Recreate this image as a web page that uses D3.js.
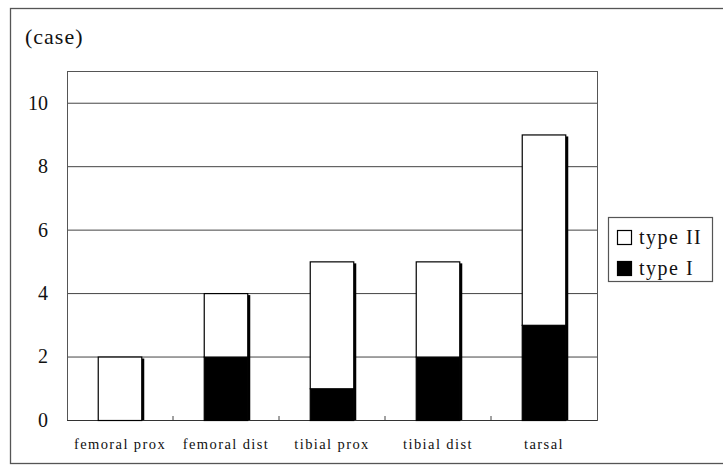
<!DOCTYPE html>
<html>
<head>
<meta charset="utf-8">
<script src="https://cdn.jsdelivr.net/npm/d3@7"></script>
<style>
  html, body { margin: 0; padding: 0; background: #fff; }
  svg { display: block; }
  text { font-family: "Liberation Serif", "DejaVu Serif", serif; fill: #111; }
</style>
</head>
<body>
<svg id="chart" width="723" height="466"></svg>
<script>
// Cases per site, split by lesion type
const categories = ["femoral prox", "femoral dist", "tibial prox", "tibial dist", "tarsal"];
const typeI  = [0, 2, 1, 2, 3];
const typeII = [2, 2, 4, 3, 6];
const yTicks = [0, 2, 4, 6, 8, 10];
const seriesNames = ["type I", "type II"];

const svg = d3.select("#chart");

// outer frame
svg.append("rect")
  .attr("x", 10.5).attr("y", 8.5)
  .attr("width", 730).attr("height", 455)
  .attr("fill", "none").attr("stroke", "#555").attr("stroke-width", 1.3);

const plot = { left: 67, right: 597, top: 71, bottom: 420 };

const x = d3.scaleBand().domain(categories)
  .range([plot.left, plot.right]).paddingInner(0.58).paddingOuter(0.29);
const y = d3.scaleLinear().domain([0, 11]).range([plot.bottom, plot.top]);

// gridlines
svg.append("g").selectAll("line")
  .data(yTicks.filter(d => d > 0))
  .join("line")
  .attr("x1", plot.left).attr("x2", plot.right)
  .attr("y1", d => y(d) + 0.5).attr("y2", d => y(d) + 0.5)
  .attr("stroke", "#444").attr("stroke-width", 1);

// plot border
svg.append("rect")
  .attr("x", plot.left + 0.5).attr("y", plot.top + 0.5)
  .attr("width", plot.right - plot.left).attr("height", plot.bottom - plot.top)
  .attr("fill", "none").attr("stroke", "#555").attr("stroke-width", 1);

// y axis labels
const yAxis = d3.axisLeft(y).tickValues(yTicks).tickSize(0).tickPadding(19);
const gy = svg.append("g").attr("transform", `translate(${plot.left},0)`).call(yAxis);
gy.select(".domain").remove();
gy.selectAll("text")
  .style("font-family", '"Liberation Serif", "DejaVu Serif", serif')
  .style("font-size", "20px").attr("fill", "#111");

// x axis: baseline, category boundary ticks and labels
const xAxis = d3.axisBottom(x).tickSize(0).tickPadding(19);
const gx = svg.append("g").attr("transform", `translate(0,${plot.bottom})`).call(xAxis);
gx.select(".domain").remove();
gx.selectAll("text")
  .style("font-family", '"Liberation Serif", "DejaVu Serif", serif')
  .style("font-size", "14.5px").style("letter-spacing", "1.4px").attr("fill", "#111");

svg.append("line")
  .attr("x1", plot.left).attr("x2", plot.right)
  .attr("y1", plot.bottom + 0.5).attr("y2", plot.bottom + 0.5)
  .attr("stroke", "#333").attr("stroke-width", 1.2);

const step = x.step();
const bounds = categories.slice(1).map(c => x(c) - x.paddingInner() * step / 2);
svg.append("g").selectAll("line").data(bounds).join("line")
  .attr("x1", d => d).attr("x2", d => d)
  .attr("y1", plot.bottom).attr("y2", plot.bottom - 4)
  .attr("stroke", "#444");

// stacked bars
const rows = categories.map((c, i) => ({ cat: c, "type I": typeI[i], "type II": typeII[i] }));
const stacked = d3.stack().keys(seriesNames)(rows);
const fills = { "type I": "#000", "type II": "#fff" };

// drop shadow on right side of each bar
svg.append("g").selectAll("rect").data(rows).join("rect")
  .attr("x", d => x(d.cat) + x.bandwidth() - 1)
  .attr("y", d => y(d["type I"] + d["type II"]) + 2)
  .attr("width", 3)
  .attr("height", d => y(0) - y(d["type I"] + d["type II"]) - 2)
  .attr("fill", "#000");

svg.append("g").selectAll("g").data(stacked).join("g")
  .attr("fill", d => fills[d.key])
  .selectAll("rect").data(d => d.filter(s => s[1] - s[0] > 0)).join("rect")
  .attr("x", d => x(d.data.cat) + 0.5)
  .attr("y", d => y(d[1]) + 0.5)
  .attr("width", x.bandwidth() - 1)
  .attr("height", d => y(d[0]) - y(d[1]))
  .attr("stroke", "#000").attr("stroke-width", 1.2);

// unit label
svg.append("text").attr("x", 25).attr("y", 44)
  .style("font-size", "22px").style("letter-spacing", "1px").text("(case)");

// legend
const lg = svg.append("g");
lg.append("rect").attr("x", 608.5).attr("y", 217.5).attr("width", 104).attr("height", 64)
  .attr("fill", "#fff").attr("stroke", "#555").attr("stroke-width", 1.2);
const legendItems = ["type II", "type I"];
legendItems.forEach((k, i) => {
  const cy = 238 + i * 31;
  lg.append("rect").attr("x", 617.5).attr("y", cy - 7.5).attr("width", 14).attr("height", 14)
    .attr("fill", fills[k]).attr("stroke", "#000").attr("stroke-width", 1.2);
  lg.append("text").attr("x", 639).attr("y", cy + 6)
    .style("font-size", "20px").style("letter-spacing", "1.5px").text(k);
});
</script>
</body>
</html>
